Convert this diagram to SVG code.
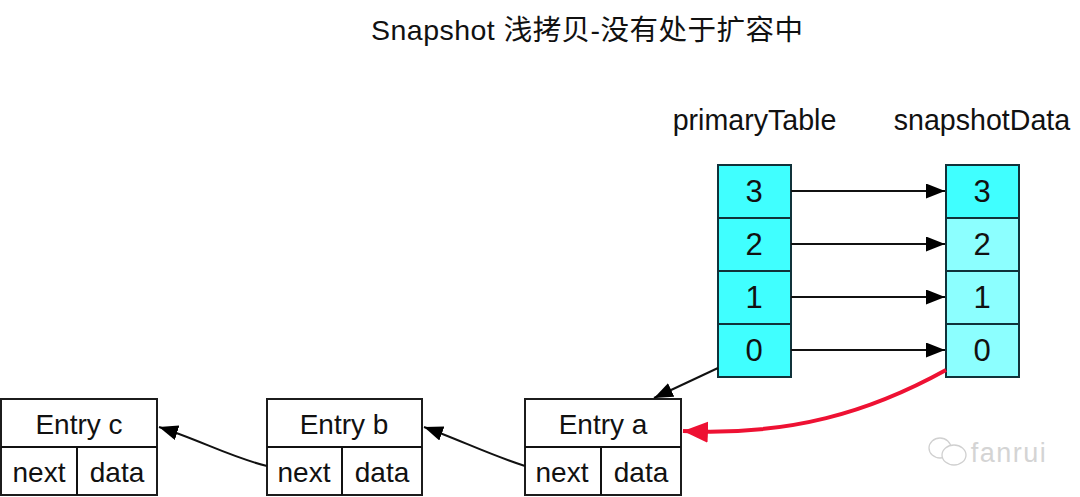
<svg xmlns="http://www.w3.org/2000/svg" width="1080" height="497" viewBox="0 0 1080 497">
<style>
text{font-family:"Liberation Sans","Noto Sans CJK SC",sans-serif;fill:#111;text-anchor:middle}
.t{font-size:28px}
.d{font-size:31px}
.h{font-size:28.6px}
.b{fill:#fff;stroke:#1c1c1c;stroke-width:2}
.c1{fill:#40ffff;stroke:#10323a;stroke-width:2}
.c2{fill:#8cffff;stroke:#10323a;stroke-width:2}
.l{fill:none;stroke:#111;stroke-width:2}
.wm{fill:#fff;stroke:#d0d0d0;stroke-width:1.3}
</style>
<defs>
<marker id="a" markerUnits="userSpaceOnUse" markerWidth="20" markerHeight="16" refX="19" refY="7.5" orient="auto"><path d="M0 0L19 7.5L0 15Z" fill="#000"/></marker>
<marker id="r" markerUnits="userSpaceOnUse" markerWidth="28" markerHeight="22" refX="25" refY="10.5" orient="auto"><path d="M0 0L25 10.5L0 21Z" fill="#ee1133"/></marker>
</defs>
<rect width="1080" height="497" fill="#fff"/>
<text id="title" x="587" y="40" font-size="28.5" textLength="432">Snapshot 浅拷贝-没有处于扩容中</text>
<g id="primaryTable">
<text class="h" x="754.500" y="130">primaryTable</text>
<rect class="c1" x="718" y="165" width="73" height="53"/><rect class="c1" x="718" y="218" width="73" height="53"/><rect class="c1" x="718" y="271" width="73" height="53"/><rect class="c1" x="718" y="324" width="73" height="53"/>
<text class="d" x="754" y="202">3</text><text class="d" x="754" y="255">2</text><text class="d" x="754" y="308">1</text><text class="d" x="754" y="361">0</text>
</g>
<g id="snapshotData">
<text class="h" x="982" y="130">snapshotData</text>
<rect class="c1" x="946" y="165" width="73" height="53"/><rect class="c2" x="946" y="218" width="73" height="53"/><rect class="c2" x="946" y="271" width="73" height="53"/><rect class="c2" x="946" y="324" width="73" height="53"/>
<text class="d" x="982" y="202">3</text><text class="d" x="982" y="255">2</text><text class="d" x="982" y="308">1</text><text class="d" x="982" y="361">0</text>
</g>
<g id="entryA">
<rect class="b" x="525" y="399" width="156" height="96"/><path class="l" d="M525 447H681M601 447V495"/>
<text class="t" x="603" y="434">Entry a</text><text class="t" x="562" y="482">next</text><text class="t" x="641" y="482">data</text>
</g>
<g id="entryB">
<rect class="b" x="267" y="399" width="155" height="96"/><path class="l" d="M267 447H422M342 447V495"/>
<text class="t" x="344" y="434">Entry b</text><text class="t" x="304" y="482">next</text><text class="t" x="382" y="482">data</text>
</g>
<g id="entryC">
<rect class="b" x="1" y="399" width="156" height="96"/><path class="l" d="M1 447H157M77 447V495"/>
<text class="t" x="79" y="434">Entry c</text><text class="t" x="39" y="482">next</text><text class="t" x="117" y="482">data</text>
</g>
<g id="connectors">
<path class="l" marker-end="url(#a)" d="M791 191H945"/>
<path class="l" marker-end="url(#a)" d="M791 244H945"/>
<path class="l" marker-end="url(#a)" d="M791 297H945"/>
<path class="l" marker-end="url(#a)" d="M791 350H945"/>
<path class="l" marker-end="url(#a)" d="M718 368L654 398"/>
<path class="l" marker-end="url(#a)" d="M525 466C490 455 460 440 424 427"/>
<path class="l" marker-end="url(#a)" d="M267 466C230 457 200 440 159 427"/>
<path fill="none" stroke="#ee1133" stroke-width="4" marker-end="url(#r)" d="M946 370C870 412 790 436 683 431"/>
</g>
<g id="watermark">
<ellipse class="wm" cx="940" cy="448" rx="11" ry="10"/>
<ellipse class="wm" cx="954" cy="455" rx="12" ry="10"/>
<text x="1009" y="462" font-size="27" letter-spacing="1.5" style="fill:#d4d4d4">fanrui</text>
</g>
</svg>
